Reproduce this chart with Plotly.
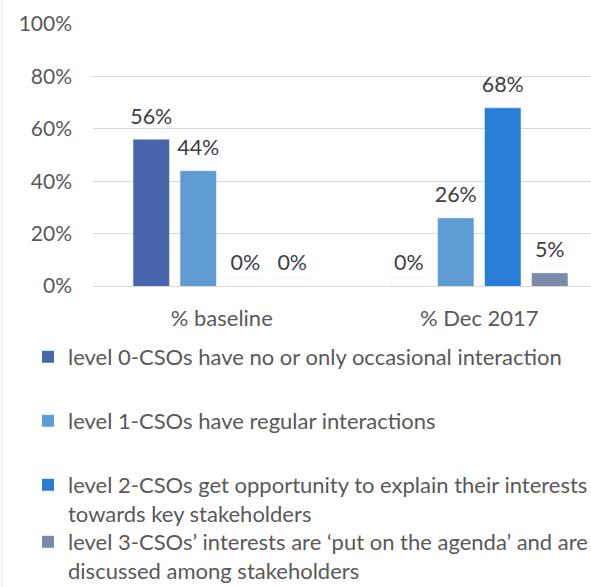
import plotly.graph_objects as go

# Survey periods and interaction levels
periods = ["% baseline", "% Dec 2017"]
levels = [
    "level 0-CSOs have no or only occasional interaction",
    "level 1-CSOs have regular interactions",
    "level 2-CSOs get opportunity to explain their interests<br>towards key stakeholders",
    "level 3-CSOs\u2019 interests are \u2018put on the agenda\u2019 and are<br>discussed among stakeholders",
]
level0 = [0.56, 0.00]
level1 = [0.44, 0.26]
level2 = [0.00, 0.68]
level3 = [0.00, 0.05]
series = [level0, level1, level2, level3]

colors = ["#4866ad", "#5e9cd3", "#2a7dd6", "#7b8ba8"]

FONT = "Lato"
W, H = 591, 587
ML, MT, MB = 93, 24, 301
PW = W - ML
PH = H - MT - MB

def py(y_px):
    return (H - MB - y_px) / PH

def px(x_px):
    return (x_px - ML) / PW

LABEL_LIFT = 0.029  # invisible riser so value labels sit above their bars

fig = go.Figure()
legend_ids = ["legend", "legend2", "legend3", "legend4"]
for i, (name, vals, col) in enumerate(zip(levels, series, colors)):
    fig.add_trace(go.Bar(
        x=periods, y=vals, name=name, offsetgroup=str(i),
        marker=dict(color=col, line=dict(width=0)),
        legend=legend_ids[i], hoverinfo="skip",
    ))
    fig.add_trace(go.Bar(
        x=periods, y=[LABEL_LIFT] * len(vals), offsetgroup=str(i),
        marker=dict(color="rgba(0,0,0,0)"), showlegend=False,
        text=[f"{round(v * 100)}%" for v in vals], textposition="outside",
        constraintext="none",
        textfont=dict(family=FONT, size=21.5, color="#404040"),
        cliponaxis=False, hoverinfo="skip",
    ))

legend_tops = [336, 400, 464, 521]
legend_common = dict(
    x=px(28), xanchor="left", yanchor="top", valign="top",
    font=dict(family=FONT, size=22, color="#595959"),
    bgcolor="rgba(0,0,0,0)", borderwidth=0, tracegroupgap=0,
)

fig.update_layout(
    width=W, height=H,
    margin=dict(l=ML, r=0, t=MT, b=MB, autoexpand=False),
    paper_bgcolor="white", plot_bgcolor="white",
    barmode="relative", bargap=0.27, bargroupgap=0.234,
    showlegend=True,
    legend=dict(y=py(legend_tops[0]), **legend_common),
    legend2=dict(y=py(legend_tops[1]), **legend_common),
    legend3=dict(y=py(legend_tops[2]), **legend_common),
    legend4=dict(y=py(legend_tops[3]), **legend_common),
    xaxis=dict(
        type="category", range=[-0.5, -0.5 + PW / 257.5],
        showgrid=False, showline=False, zeroline=False, ticks="",
        tickfont=dict(family=FONT, size=22, color="#595959"),
        ticklabelstandoff=17,
    ),
    yaxis=dict(
        range=[0, 1], tickvals=[0, 0.2, 0.4, 0.6, 0.8, 1.0],
        tickformat=".0%", showgrid=True, gridcolor="#d9d9d9", gridwidth=1,
        zeroline=True, zerolinecolor="#d9d9d9", zerolinewidth=1,
        showline=False, ticks="",
        tickfont=dict(family=FONT, size=21, color="#595959"),
        ticklabelstandoff=20,
    ),
    shapes=[dict(
        type="line", xref="paper", yref="paper",
        x0=px(2), x1=px(2), y0=py(H), y1=py(0),
        line=dict(color="#e3e3e3", width=1),
    )],
)

fig.write_html("out.html")
